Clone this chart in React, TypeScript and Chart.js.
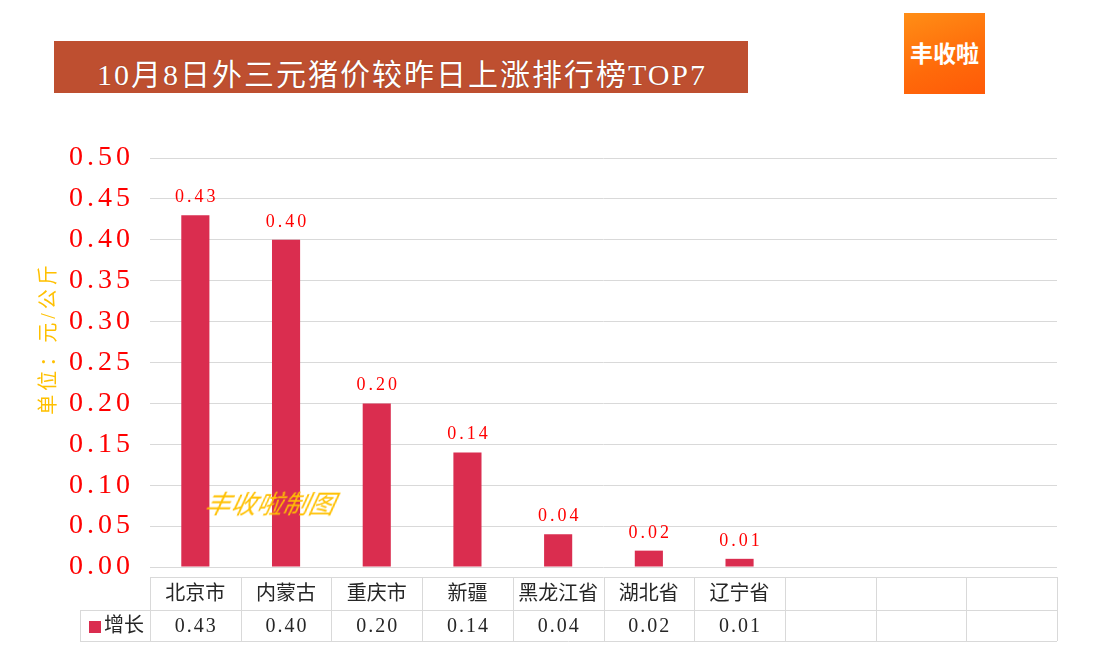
import React, { useEffect, useRef } from "react";
import { Chart, registerables } from "chart.js";

Chart.register(...registerables);

const categories = ["北京市", "内蒙古", "重庆市", "新疆", "黑龙江省", "湖北省", "辽宁省", "", "", ""];
const growth: (number | null)[] = [0.43, 0.40, 0.20, 0.14, 0.04, 0.02, 0.01, null, null, null];
const seriesName = "增长";
const yTickMin = 0;
const yTickMax = 0.5;
const yTickStep = 0.05;
const titleText = "10月8日外三元猪价较昨日上涨排行榜TOP7";
const yTitle = "单位：元/公斤";
const logoText = "丰收啦";
const watermark = "丰收啦制图";

const BAR = "#DA2D4F";
const RED = "#FF0000";
const GOLD = "#FFC000";
const GRID = "#D9D9D9";
const SERIF = '"Liberation Serif", "DejaVu Serif", "Noto Sans CJK SC", serif';

const extrasPlugin = {
  id: "extras",
  beforeDraw(chart: any) {
    chart.ctx.letterSpacing = "4px";
  },
  afterDatasetsDraw(chart: any) {
    const { ctx } = chart;
    const meta = chart.getDatasetMeta(0);
    ctx.save();
    ctx.letterSpacing = "3px";
    ctx.fillStyle = RED;
    ctx.font = `18px ${SERIF}`;
    ctx.textAlign = "center";
    ctx.textBaseline = "alphabetic";
    meta.data.forEach((el: any, i: number) => {
      const v = growth[i];
      if (v == null) return;
      ctx.fillText(v.toFixed(2), el.x + 1.5, el.y - 13);
    });
    ctx.restore();
  },
  afterDraw(chart: any) {
    const { ctx, chartArea } = chart;
    const left = chartArea.left;
    const right = chartArea.right;
    const n = categories.length;
    const colW = (right - left) / n;
    const y0 = 577;
    const y1 = 610;
    const y2 = 641;
    const legendLeft = 80;
    ctx.save();
    ctx.letterSpacing = "0px";
    ctx.strokeStyle = GRID;
    ctx.lineWidth = 1;
    ctx.beginPath();
    ctx.moveTo(left, y0 + 0.5);
    ctx.lineTo(right, y0 + 0.5);
    ctx.moveTo(legendLeft, y1 + 0.5);
    ctx.lineTo(right, y1 + 0.5);
    ctx.moveTo(legendLeft, y2 + 0.5);
    ctx.lineTo(right, y2 + 0.5);
    ctx.moveTo(legendLeft + 0.5, y1);
    ctx.lineTo(legendLeft + 0.5, y2);
    for (let i = 0; i <= n; i++) {
      const x = Math.round(left + i * colW) + 0.5;
      ctx.moveTo(x, y0);
      ctx.lineTo(x, y2);
    }
    ctx.stroke();

    const xScale = chart.scales.x;
    ctx.fillStyle = "#262626";
    ctx.font = `20px ${SERIF}`;
    ctx.textAlign = "center";
    ctx.textBaseline = "middle";
    categories.forEach((c, i) => {
      const cx = xScale.getPixelForValue(i);
      ctx.letterSpacing = "0px";
      ctx.fillText(c, cx, (y0 + y1) / 2 + 1);
      const v = growth[i];
      if (v != null) {
        ctx.letterSpacing = "2px";
        ctx.fillText(v.toFixed(2), cx + 1, (y1 + y2) / 2 + 1);
      }
    });
    ctx.letterSpacing = "0px";
    // legend key
    ctx.fillStyle = BAR;
    ctx.fillRect(89, 621, 12, 12);
    ctx.fillStyle = "#262626";
    ctx.textAlign = "left";
    ctx.fillText(seriesName, 104, (y1 + y2) / 2 + 1);

    // y axis title
    ctx.translate(50, 340);
    ctx.rotate(-Math.PI / 2);
    ctx.fillStyle = GOLD;
    ctx.font = `20px ${SERIF}`;
    ctx.letterSpacing = "4px";
    ctx.textAlign = "center";
    ctx.textBaseline = "middle";
    ctx.fillText(yTitle, 2, 0);
    ctx.restore();
  },
};

export default function App() {
  const ref = useRef<HTMLCanvasElement | null>(null);
  useEffect(() => {
    if (!ref.current) return;
    const chart = new Chart(ref.current, {
      type: "bar",
      data: {
        labels: categories,
        datasets: [
          {
            label: seriesName,
            data: growth,
            backgroundColor: BAR,
            borderWidth: 0,
            barPercentage: 0.31,
            categoryPercentage: 1,
          },
        ],
      },
      options: {
        responsive: false,
        animation: false,
        devicePixelRatio: 1,
        layout: { padding: { left: 0, right: 36, top: 158, bottom: 90 } },
        plugins: { legend: { display: false }, tooltip: { enabled: false }, title: { display: false } },
        scales: {
          x: { display: false },
          y: {
            min: yTickMin,
            max: yTickMax,
            ticks: {
              stepSize: yTickStep,
              color: RED,
              font: { family: SERIF, size: 28 },
              padding: 16,
              callback: (v: any) => Number(v).toFixed(2),
            },
            grid: { color: GRID, drawTicks: false },
            border: { display: false },
            afterFit: (s: any) => {
              s.width = 150;
            },
          },
        },
      },
      plugins: [extrasPlugin],
    });
    return () => chart.destroy();
  }, []);

  return (
    <div style={{ position: "absolute", left: 0, top: 0, width: 1093, height: 657, background: "#fff", overflow: "hidden" }}>
      <canvas ref={ref} width={1093} height={657} style={{ position: "absolute", left: 0, top: 0, width: 1093, height: 657 }} />
      <div
        style={{
          position: "absolute",
          left: 54,
          top: 41,
          width: 694,
          height: 52,
          background: "#BE4F30",
          color: "#fff",
          fontFamily: SERIF,
          fontSize: 30,
          lineHeight: "52px",
          textAlign: "center",
          whiteSpace: "nowrap",
        }}
      >
        <span style={{ position: "relative", top: 8, left: 1, letterSpacing: 2, textShadow: "0 0 1px #7a2a15" }}>{titleText}</span>
      </div>
      <div
        style={{
          position: "absolute",
          left: 904,
          top: 13,
          width: 81,
          height: 81,
          background: "linear-gradient(160deg, #FF8E16 0%, #FF6A0A 60%, #FF5A08 100%)",
          color: "#fff",
          fontFamily: '"Noto Sans CJK SC", sans-serif',
          fontWeight: 700,
          fontSize: 23,
          lineHeight: "81px",
          textAlign: "center",
          whiteSpace: "nowrap",
        }}
      >
        <span style={{ position: "relative", top: -1 }}>{logoText}</span>
      </div>
      <div
        style={{
          position: "absolute",
          left: 205,
          top: 489,
          color: GOLD,
          fontFamily: SERIF,
          fontStyle: "italic",
          fontSize: 26,
          lineHeight: "32px",
          whiteSpace: "nowrap",
          transform: "skewX(-12deg)",
        }}
      >
        {watermark}
      </div>
    </div>
  );
}
